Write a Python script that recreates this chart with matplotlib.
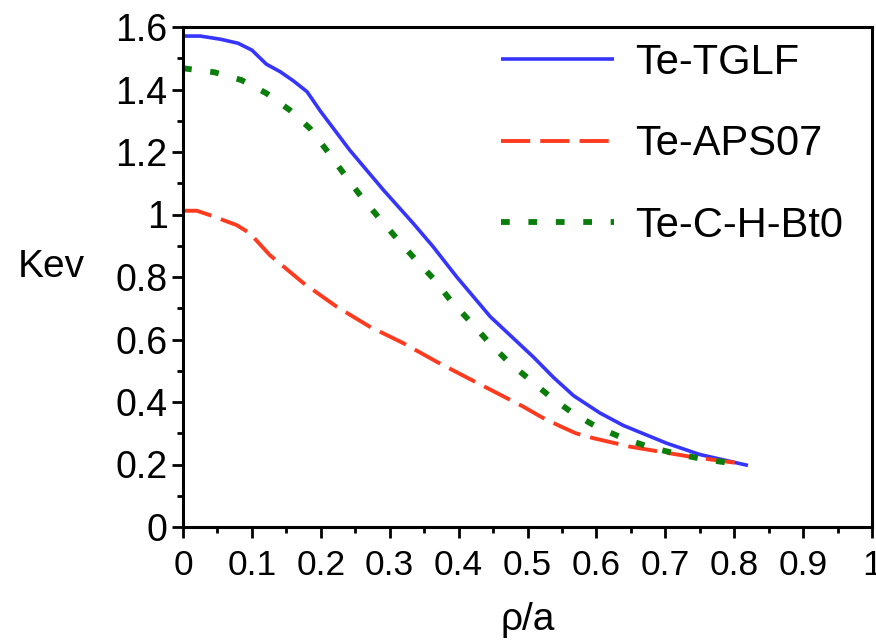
import matplotlib
matplotlib.use("Agg")
import matplotlib.pyplot as plt
from matplotlib.ticker import MultipleLocator, FixedLocator

plt.rcParams['font.family'] = ['Liberation Sans', 'DejaVu Sans']

# Te-TGLF
x_tglf = [0, 0.025, 0.054, 0.08, 0.10, 0.121, 0.141, 0.16, 0.18, 0.2, 0.242,
          0.291, 0.334, 0.363, 0.397, 0.446, 0.508, 0.538, 0.567, 0.605, 0.639,
          0.702, 0.75, 0.82]
y_tglf = [1.571, 1.571, 1.561, 1.548, 1.526, 1.481, 1.457, 1.428, 1.393, 1.329,
          1.206, 1.078, 0.972, 0.897, 0.801, 0.673, 0.545, 0.478, 0.420, 0.365,
          0.325, 0.268, 0.232, 0.197]

# Te-APS07
x_aps = [0, 0.02, 0.039, 0.078, 0.097, 0.126, 0.175, 0.223, 0.271, 0.320, 0.368,
         0.414, 0.494, 0.52, 0.547, 0.57, 0.596, 0.649, 0.736, 0.81]
y_aps = [1.012, 1.012, 0.998, 0.966, 0.940, 0.870, 0.780, 0.705, 0.641, 0.588,
         0.529, 0.476, 0.385, 0.352, 0.323, 0.300, 0.284, 0.257, 0.225, 0.203]

# Te-C-H-Bt0
x_cbt = [0, 0.046, 0.085, 0.121, 0.155, 0.184, 0.209, 0.233, 0.257, 0.283, 0.310,
         0.337, 0.363, 0.388, 0.417, 0.443, 0.472, 0.504, 0.533, 0.566, 0.600,
         0.639, 0.678, 0.717, 0.755, 0.80]
y_cbt = [1.468, 1.455, 1.430, 1.388, 1.334, 1.276, 1.204, 1.132, 1.062, 0.993,
         0.924, 0.857, 0.796, 0.726, 0.657, 0.593, 0.529, 0.470, 0.417, 0.364,
         0.321, 0.284, 0.255, 0.234, 0.217, 0.203]

x_ticks = [0, 0.1, 0.2, 0.3, 0.4, 0.5, 0.6, 0.7, 0.8, 0.9, 1]
x_ticklabels = ['0', '0.1', '0.2', '0.3', '0.4', '0.5', '0.6', '0.7', '0.8', '0.9', '1']
y_ticks = [0, 0.2, 0.4, 0.6, 0.8, 1.0, 1.2, 1.4, 1.6]
y_ticklabels = ['0', '0.2', '0.4', '0.6', '0.8', '1', '1.2', '1.4', '1.6']

fig = plt.figure(figsize=(8.76, 6.42), dpi=100)
ax = fig.add_axes([183/876, 1 - 527/642, (872-183)/876, (527-27)/642])

ax.plot(x_tglf, y_tglf, color='#3535ff', lw=2.6, label='Te-TGLF', solid_capstyle='butt')
ax.plot(x_aps, y_aps, color='#ff3b1f', lw=2.8, label='Te-APS07',
        dashes=(7.5, 2.6), dash_capstyle='butt')
ax.plot(x_cbt, y_cbt, color='#0b7d0b', lw=4.2, label='Te-C-H-Bt0',
        dashes=(1.5, 3.2), dash_capstyle='butt')

ax.set_xlim(0, 1)
ax.set_ylim(0, 1.6)
ax.xaxis.set_major_locator(FixedLocator(x_ticks))
ax.set_xticklabels(x_ticklabels)
ax.yaxis.set_major_locator(FixedLocator(y_ticks))
ax.set_yticklabels(y_ticklabels)
ax.xaxis.set_minor_locator(MultipleLocator(0.05))
ax.yaxis.set_minor_locator(MultipleLocator(0.1))

for s in ax.spines.values():
    s.set_linewidth(2.2)
ax.tick_params(which='major', direction='out', length=8, width=2, pad=3)
ax.tick_params(which='minor', direction='out', length=4.5, width=2)
ax.tick_params(axis='y', which='major', labelsize=27)
ax.tick_params(axis='x', which='major', labelsize=25.5, pad=8)

ax.set_xlabel('ρ/a', fontsize=28, labelpad=14)
ax.text(-0.240, 0.52, 'Kev', transform=ax.transAxes, fontsize=28,
        ha='left', va='center')

leg = ax.legend(loc='upper right', fontsize=30, frameon=False,
                handlelength=2.7, handletextpad=0.5, labelspacing=1.0,
                borderaxespad=0.3, bbox_to_anchor=(1.0, 1.027))

fig.savefig('out.png', dpi=100)
